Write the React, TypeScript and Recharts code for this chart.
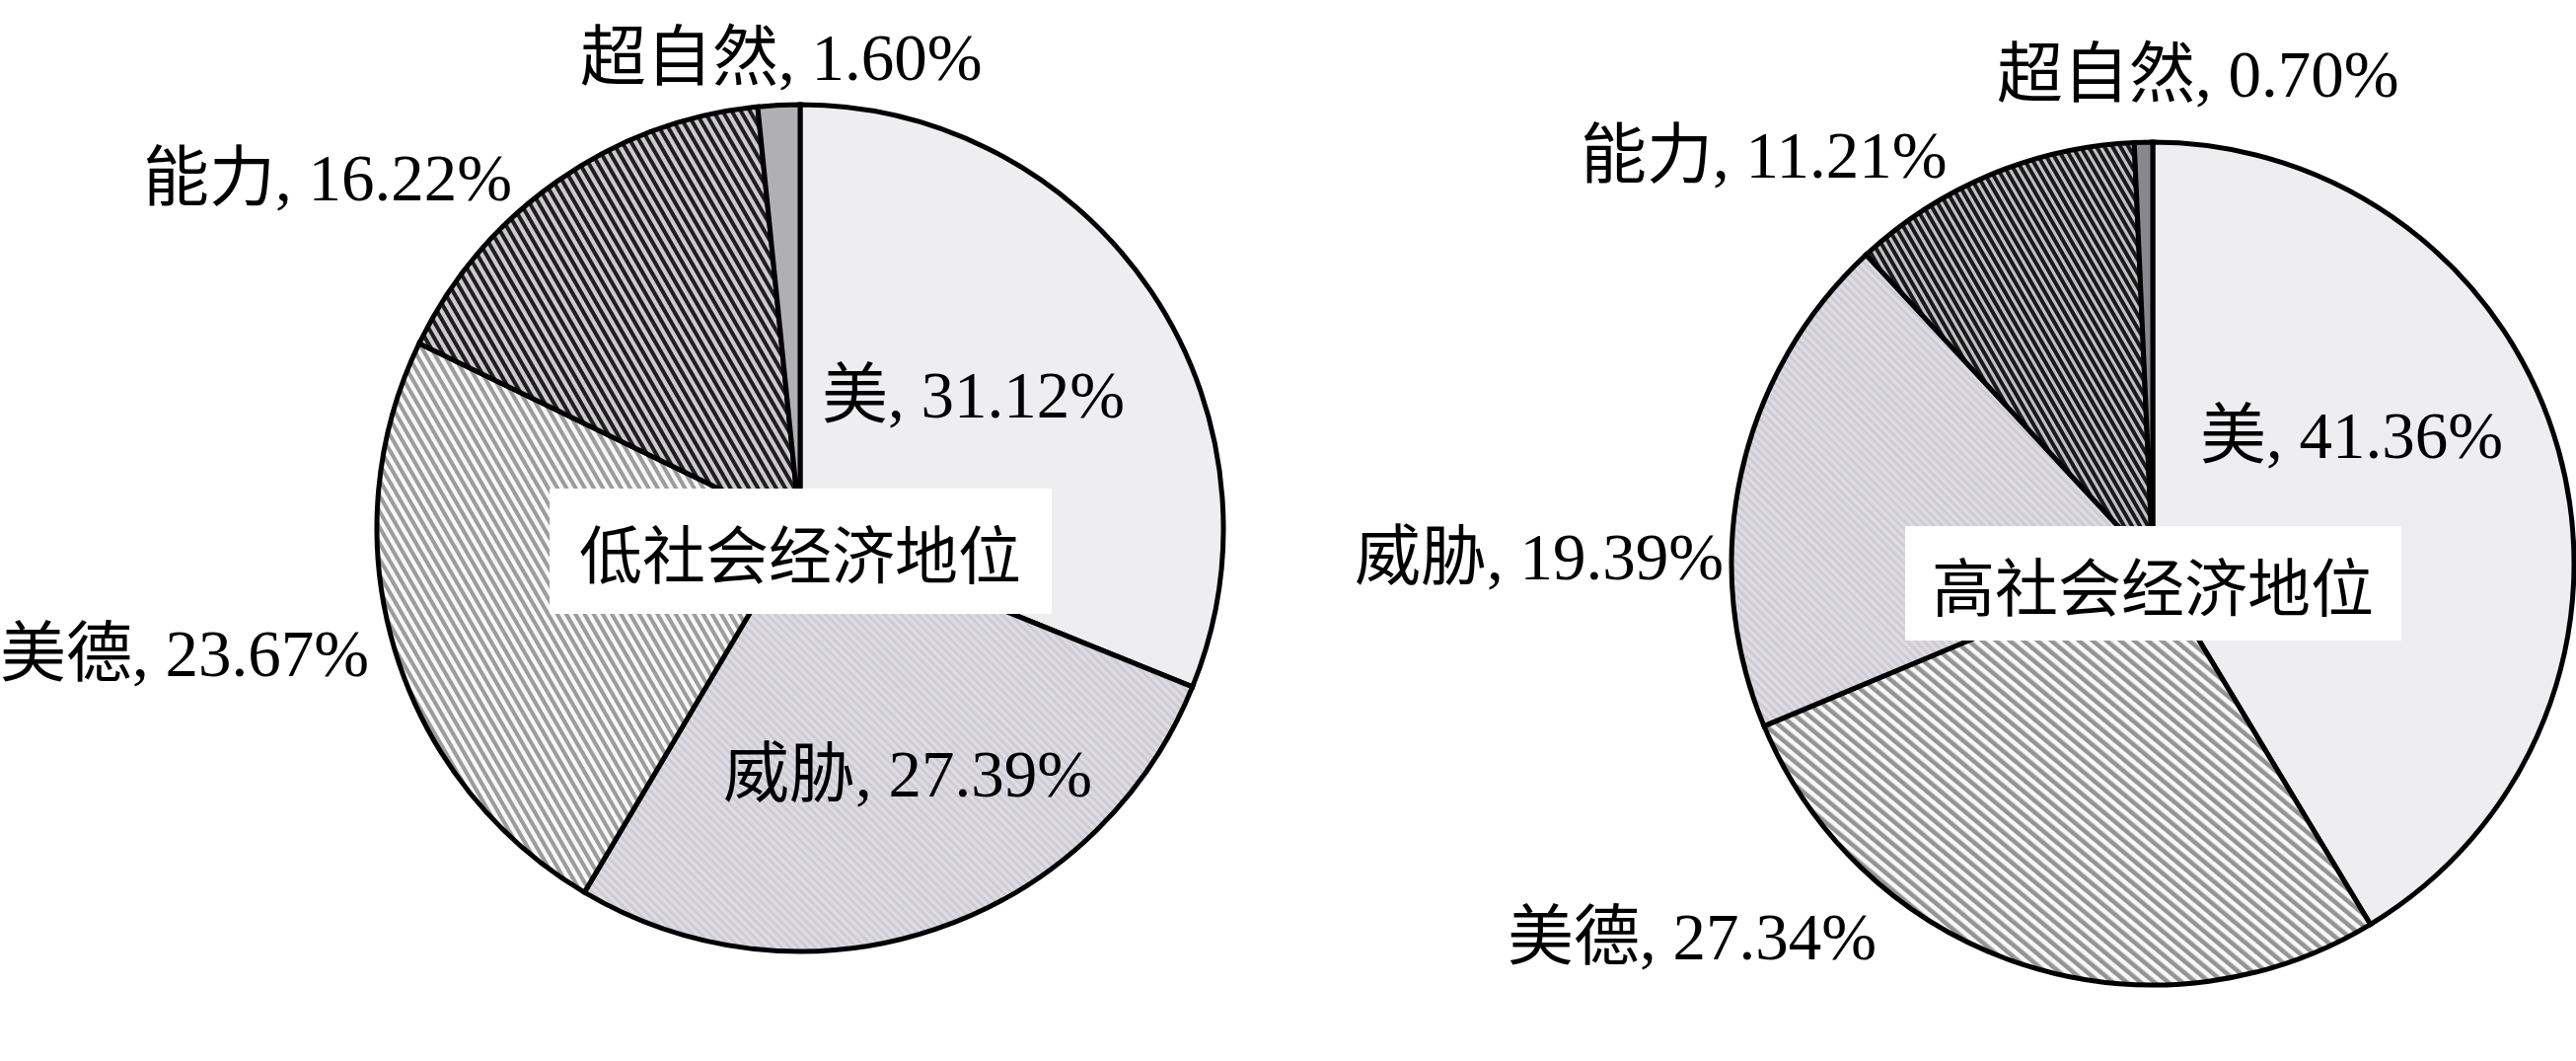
import React from 'react';
import { PieChart, Pie, Cell } from 'recharts';

// low SES pie, clockwise from 12 o'clock
const LOW_NAMES = ['美', '威胁', '美德', '能力', '超自然'];
const LOW_VALUES = [31.12, 27.39, 23.67, 16.22, 1.6];

// high SES pie, clockwise from 12 o'clock
const HIGH_NAMES = ['美', '美德', '威胁', '能力', '超自然'];
const HIGH_VALUES = [41.36, 27.34, 19.39, 11.21, 0.7];

const TITLES = ['低社会经济地位', '高社会经济地位'];

const W = 2611;
const H = 1075;
const FONT = "'Liberation Serif', 'Times New Roman', 'Noto Sans CJK SC', serif";

const lowData = LOW_NAMES.map((name, i) => ({ name, value: LOW_VALUES[i] }));
const highData = HIGH_NAMES.map((name, i) => ({ name, value: HIGH_VALUES[i] }));

// layout of the two pies and where each slice label sits (offset from pie centre)
const PIES = [
    {
        cx: 811, cy: 535, r: 429,
        box: { w: 509, h: 127, dy: 23 },
        labels: { '美': [22, -135], '威胁': [-78, 249], '美德': [-811, 127], '能力': [-666, -355], '超自然': [-223, -477] } as Record<string, number[]>,
        fills: { '美': '#eeedf0', '威胁': 'url(#p-weixie)', '美德': 'url(#p-meide-l)', '能力': 'url(#p-nengli-l)', '超自然': '#b0b0b2' } as Record<string, string>,
    },
    {
        cx: 2182, cy: 571, r: 427,
        box: { w: 503, h: 116, dy: 20 },
        labels: { '美': [48, -130], '威胁': [-809, -7], '美德': [-654, 378], '能力': [-580, -414], '超自然': [-158, -496] } as Record<string, number[]>,
        fills: { '美': '#eeedf0', '威胁': 'url(#p-weixie)', '美德': 'url(#p-meide-r)', '能力': 'url(#p-nengli-r)', '超自然': '#88888c' } as Record<string, string>,
    },
];

function makeLabel(pieIdx: number) {
    const cfg = PIES[pieIdx];
    return (props: any) => {
        const { name, value, index } = props;
        const off = cfg.labels[name] || [0, 0];
        return (
            <text
                key={`lbl-${pieIdx}-${index}`}
                x={cfg.cx + off[0]}
                y={cfg.cy + off[1]}
                fill="#000"
                fontSize={67}
                fontFamily={FONT}
                dominantBaseline="central"
                textAnchor="start"
            >
                {`${name}, ${Number(value).toFixed(2)}%`}
            </text>
        );
    };
}

function Stripes({ id, bg, fg, period, width, angle }: { id: string; bg: string; fg: string; period: number; width: number; angle: number }) {
    return (
        <pattern id={id} patternUnits="userSpaceOnUse" width={period} height={period} patternTransform={`rotate(${angle})`}>
            <rect width={period} height={period} fill={bg} />
            <rect width={width} height={period} fill={fg} />
        </pattern>
    );
}

export default function App() {
    return (
        <div style={{ position: 'absolute', left: 0, top: 0, width: W, height: H, background: '#fff', overflow: 'hidden' }}>
            <svg width={0} height={0} style={{ position: 'absolute' }}>
                <defs>
                    <Stripes id="p-weixie" bg="#dedce3" fg="#cecbd5" period={6} width={3} angle={-45} />
                    <Stripes id="p-meide-l" bg="#f8f8f6" fg="#9c9c9e" period={8} width={4} angle={-30} />
                    <Stripes id="p-meide-r" bg="#f8f8f6" fg="#949496" period={9} width={4.5} angle={-50} />
                    <Stripes id="p-nengli-l" bg="#cdc9cf" fg="#1e1e1e" period={8} width={4} angle={-30} />
                    <Stripes id="p-nengli-r" bg="#c4c2c6" fg="#1a1a1a" period={7} width={4} angle={-30} />
                </defs>
            </svg>
            <PieChart width={W} height={H} margin={{ top: 0, right: 0, bottom: 0, left: 0 }}>
                {[lowData, highData].map((data, p) => (
                    <Pie
                        key={`pie-${p}`}
                        data={data}
                        dataKey="value"
                        nameKey="name"
                        cx={PIES[p].cx}
                        cy={PIES[p].cy}
                        outerRadius={PIES[p].r}
                        startAngle={90}
                        endAngle={-270}
                        stroke="#000"
                        strokeWidth={5}
                        label={makeLabel(p)}
                        labelLine={false}
                        isAnimationActive={false}
                    >
                        {data.map((d) => (
                            <Cell key={d.name} fill={PIES[p].fills[d.name]} stroke="#000" strokeWidth={5} />
                        ))}
                    </Pie>
                ))}
            </PieChart>
            {TITLES.map((t, p) => {
                const cfg = PIES[p];
                return (
                    <div
                        key={t}
                        style={{
                            position: 'absolute',
                            left: cfg.cx - cfg.box.w / 2,
                            top: cfg.cy + cfg.box.dy - cfg.box.h / 2,
                            width: cfg.box.w,
                            height: cfg.box.h,
                            background: '#fff',
                            display: 'flex',
                            alignItems: 'center',
                            justifyContent: 'center',
                            fontFamily: FONT,
                            fontSize: 64,
                            color: '#000',
                        }}
                    >
                        {t}
                    </div>
                );
            })}
        </div>
    );
}
